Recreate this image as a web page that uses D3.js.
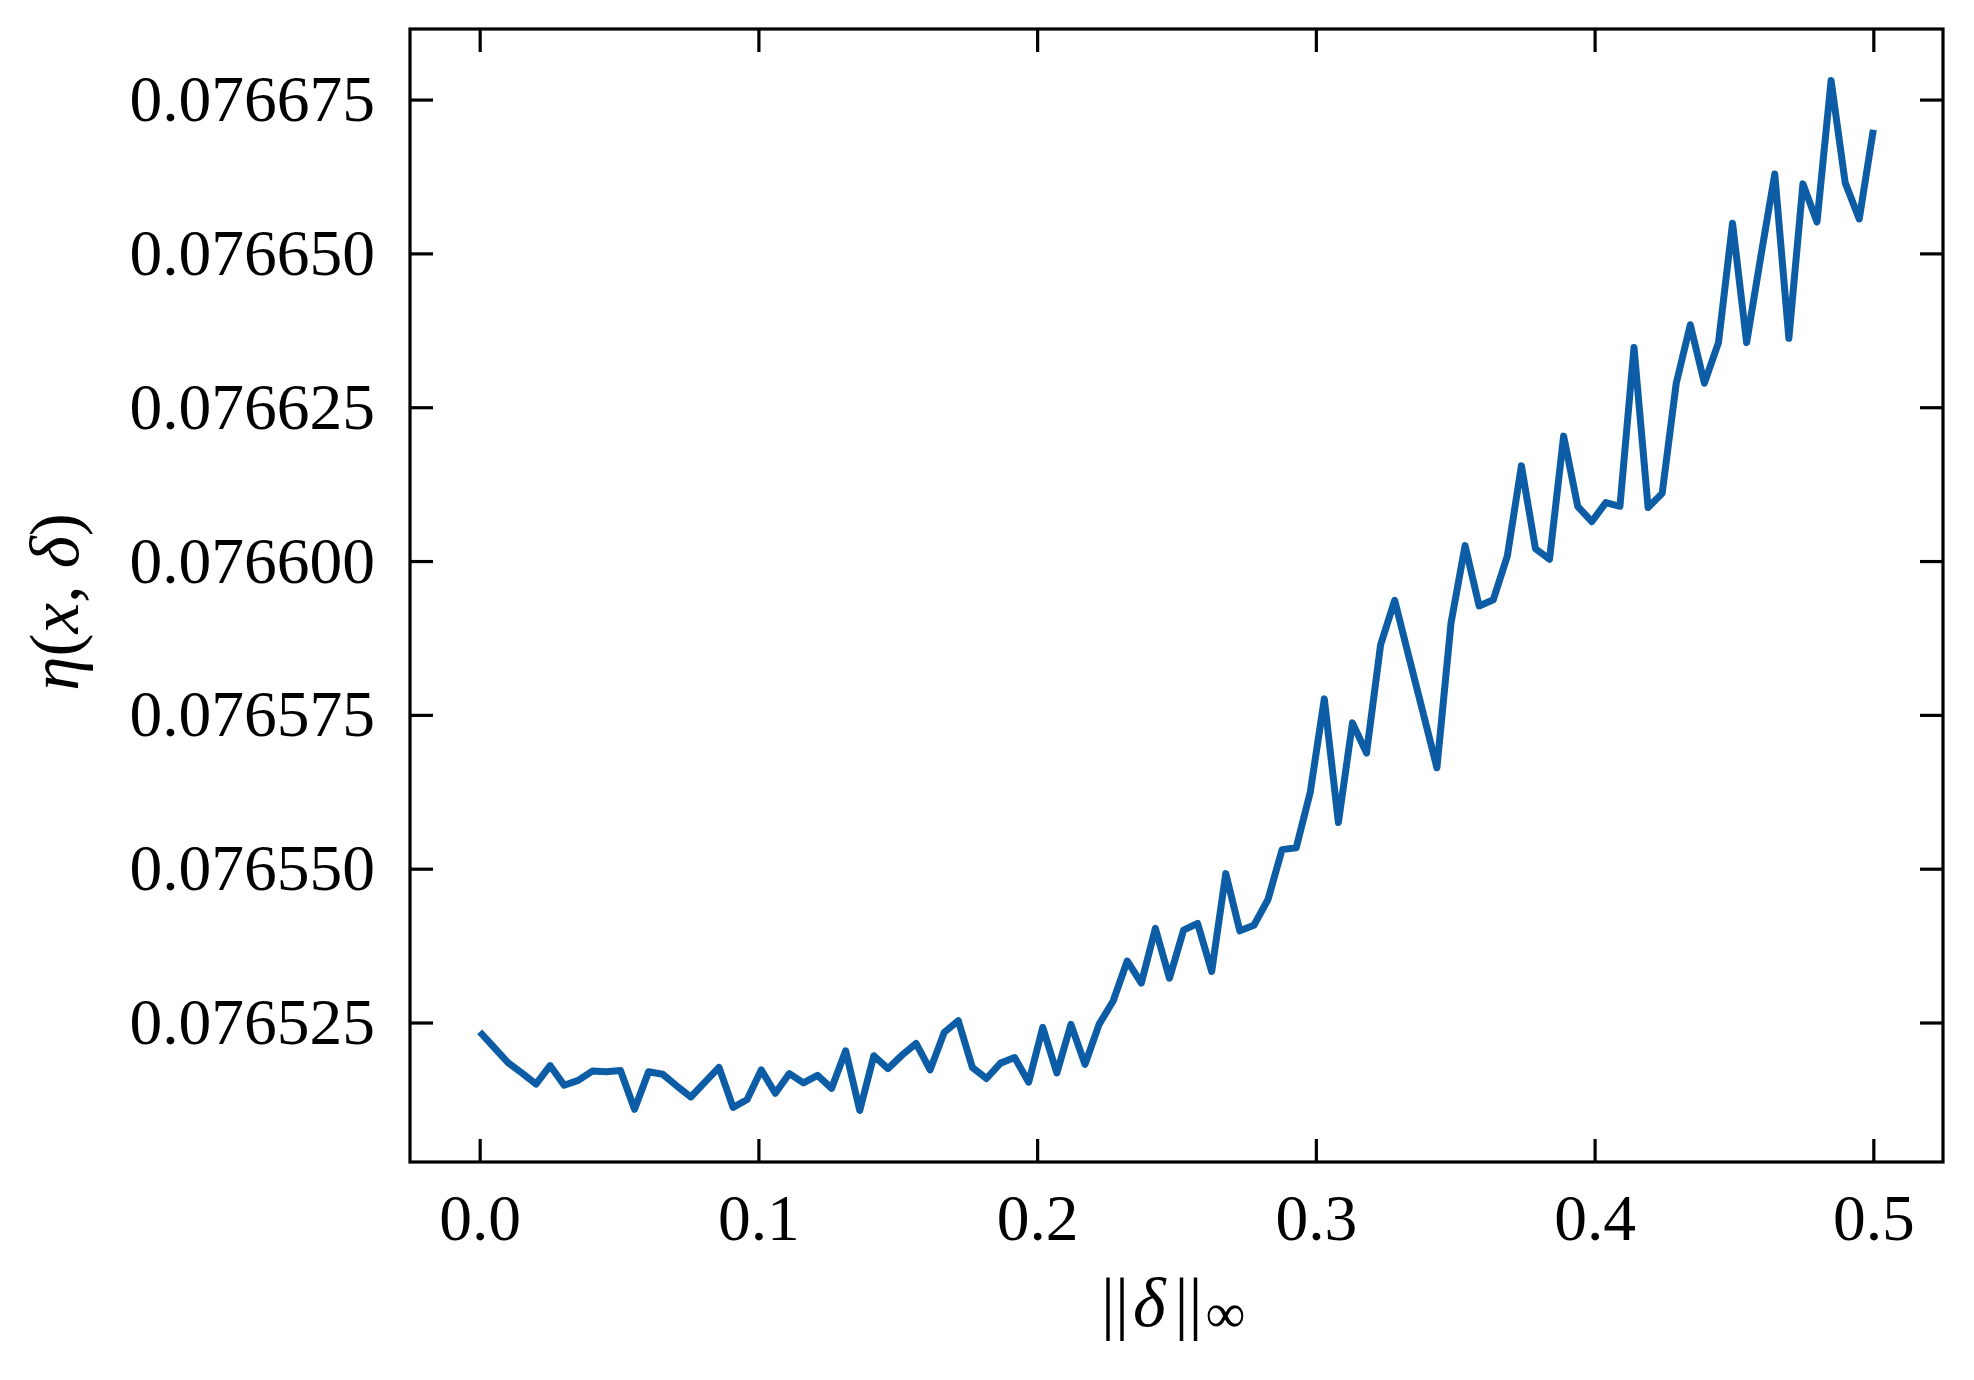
<!DOCTYPE html>
<html>
<head>
<meta charset="utf-8">
<script src="https://cdn.jsdelivr.net/npm/d3@7"></script>
<style>
  body { margin: 0; background: #fff; }
  svg { display: block; }
</style>
</head>
<body>
<svg width="1974" height="1380"></svg>
<script>
var svg = d3.select("svg"),
    width = +svg.attr("width"),
    height = +svg.attr("height");

// sampling grid: 100 evenly spaced values of ||delta||_inf from 0 to 0.5
var deltas = d3.range(100).map(function(i) { return 0.5 * i / 99; });

// eta(x, delta)
var eta = [
  0.0765235, 0.0765210, 0.0765185, 0.0765168, 0.0765150, 0.0765180, 0.0765148, 0.0765156, 0.0765171, 0.0765170,
  0.0765172, 0.0765109, 0.0765170, 0.0765166, 0.0765147, 0.0765129, 0.0765153, 0.0765177, 0.0765112, 0.0765125,
  0.0765173, 0.0765135, 0.0765167, 0.0765152, 0.0765164, 0.0765143, 0.0765204, 0.0765107, 0.0765196, 0.0765175,
  0.0765197, 0.0765216, 0.0765173, 0.0765234, 0.0765253, 0.0765177, 0.0765159, 0.0765184, 0.0765193, 0.0765153,
  0.0765242, 0.0765168, 0.0765247, 0.0765182, 0.0765247, 0.0765285, 0.0765350, 0.0765314, 0.0765403, 0.0765322,
  0.0765400, 0.0765411, 0.0765333, 0.0765492, 0.0765399, 0.0765408, 0.0765450, 0.0765531, 0.0765534, 0.0765624,
  0.0765776, 0.0765575, 0.0765737, 0.0765688, 0.0765864, 0.0765936, 0.0765845, 0.0765755, 0.0765664, 0.0765899,
  0.0766025, 0.0765927, 0.0765937, 0.0766008, 0.0766155, 0.0766020, 0.0766003, 0.0766203, 0.0766089, 0.0766064,
  0.0766095, 0.0766089, 0.0766347, 0.0766087, 0.0766110, 0.0766289, 0.0766384, 0.0766289, 0.0766355, 0.0766549,
  0.0766355, 0.0766494, 0.0766629, 0.0766362, 0.0766613, 0.0766551, 0.0766781, 0.0766615, 0.0766556, 0.0766701
];

var xTicks = [0.0, 0.1, 0.2, 0.3, 0.4, 0.5];
var yTicks = [0.076525, 0.076550, 0.076575, 0.076600, 0.076625, 0.076650, 0.076675];

var margin = {left: 410, right: 31, top: 29, bottom: 218};
var x0 = margin.left, x1 = width - margin.right,
    y0 = margin.top, y1 = height - margin.bottom;

// matplotlib style 5% padding
var xExt = d3.extent(deltas), yExt = d3.extent(eta);
var xPad = (xExt[1] - xExt[0]) * 0.05, yPad = (yExt[1] - yExt[0]) * 0.05;

var x = d3.scaleLinear().domain([xExt[0] - xPad, xExt[1] + xPad]).range([x0, x1]);
var y = d3.scaleLinear().domain([yExt[0] - yPad, yExt[1] + yPad]).range([y1, y0]);

var serif = "'Liberation Serif', 'Times New Roman', serif";
var tickLen = 23;

function styleAxis(g) {
  g.select(".domain").remove();
  g.selectAll(".tick line").attr("stroke", "#000").attr("stroke-width", 3.2);
  g.selectAll(".tick text")
    .attr("fill", "#000")
    .attr("font-family", serif)
    .attr("font-size", 65.5);
}

svg.append("g")
    .attr("transform", "translate(0," + y1 + ")")
    .call(d3.axisBottom(x).tickValues(xTicks).tickSize(-tickLen).tickPadding(31)
          .tickFormat(d3.format(".1f")))
    .call(styleAxis);

svg.append("g")
    .attr("transform", "translate(0," + y0 + ")")
    .call(d3.axisTop(x).tickValues(xTicks).tickSize(-tickLen).tickFormat(""))
    .call(styleAxis);

svg.append("g")
    .attr("transform", "translate(" + x0 + ",0)")
    .call(d3.axisLeft(y).tickValues(yTicks).tickSize(-tickLen).tickPadding(35)
          .tickFormat(d3.format(".6f")))
    .call(styleAxis);

svg.append("g")
    .attr("transform", "translate(" + x1 + ",0)")
    .call(d3.axisRight(y).tickValues(yTicks).tickSize(-tickLen).tickFormat(""))
    .call(styleAxis);

svg.append("path")
    .datum(d3.zip(deltas, eta))
    .attr("fill", "none")
    .attr("stroke", "#0C5DA5")
    .attr("stroke-width", 7)
    .attr("stroke-linejoin", "round")
    .attr("stroke-linecap", "butt")
    .attr("d", d3.line()
        .x(function(d) { return x(d[0]); })
        .y(function(d) { return y(d[1]); }));

svg.append("rect")
    .attr("x", x0).attr("y", y0)
    .attr("width", x1 - x0).attr("height", y1 - y0)
    .attr("fill", "none")
    .attr("stroke", "#000")
    .attr("stroke-width", 3.2);

// x label ||delta||_inf
var xl = svg.append("text")
    .attr("x", 1101)
    .attr("y", 1326)
    .attr("font-family", serif)
    .attr("font-size", 70)
    .attr("fill", "#000");
xl.append("tspan").text("||");
xl.append("tspan").attr("dx", 4).attr("font-style", "italic").text("\u03b4");
xl.append("tspan").attr("dx", 9).text("||");
xl.append("tspan").attr("dx", 3).attr("dy", 6).attr("font-size", 56).text("\u221e");

// y label eta(x, delta)
var yl = svg.append("text")
    .attr("transform", "translate(78,602) rotate(-90)")
    .attr("text-anchor", "middle")
    .attr("font-family", serif)
    .attr("font-size", 69)
    .attr("fill", "#000");
yl.append("tspan").attr("font-style", "italic").text("\u03b7");
yl.append("tspan").text("(");
yl.append("tspan").attr("font-style", "italic").text("x");
yl.append("tspan").text(", ");
yl.append("tspan").attr("font-style", "italic").text("\u03b4");
yl.append("tspan").text(")");
</script>
</body>
</html>
